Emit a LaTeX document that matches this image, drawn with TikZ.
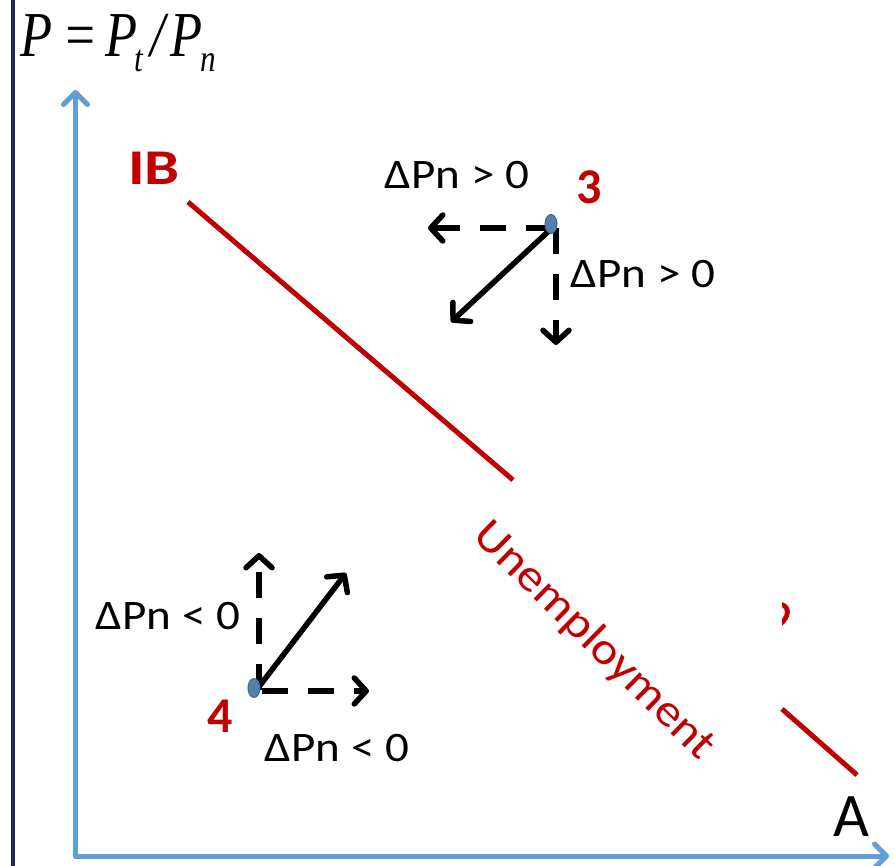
\documentclass[tikz,border=0pt]{standalone}
\usepackage{fontspec}
\setmainfont{Carlito}
\newfontfamily\ttlfont{Liberation Serif}
\usetikzlibrary{arrows.meta,shapes.geometric}
\definecolor{navy}{RGB}{38,38,90}
\definecolor{axisblue}{RGB}{98,158,212}
\definecolor{ibred}{RGB}{192,0,0}
\definecolor{dotfill}{RGB}{84,128,172}
\definecolor{dotdraw}{RGB}{62,100,145}
\tikzset{
  axisline/.style={axisblue, line width=5pt, line cap=round,
     -{Straight Barb[length=12pt,width=24pt,line cap=round,line join=round]}},
  redline/.style={ibred, line width=5pt},
  dasharrow/.style={black, line width=5.5pt, dash pattern=on 26pt off 20pt,
     -{Straight Barb[length=12pt,width=26pt,line cap=round,line join=round]}},
  solidarrow/.style={black, line width=5.5pt,
     -{Straight Barb[length=12pt,width=26pt,line cap=round,line join=round]}},
  lbl/.style={inner sep=0, font=\fontsize{42}{42}\selectfont, xscale=1.12},
  numlbl/.style={inner sep=0, text=ibred, font=\fontsize{50}{50}\selectfont\bfseries},
  dotnode/.style={ellipse, fill=dotfill, draw=dotdraw, line width=1pt,
     minimum width=12pt, minimum height=19pt, inner sep=0},
}
\begin{document}
\begin{tikzpicture}[x=1pt,y=-1pt]
\useasboundingbox (0,0) rectangle (895,866);
% left border
\draw[navy, line width=4pt] (13,-2) -- (13,868);
% axes
\coordinate (O) at (75.5,856);
\coordinate (ytop) at (75.5,90);
\coordinate (xend) at (889,856);
\draw[axisline] (O) -- (ytop);
\draw[axisline] (O) -- (xend);
% title
\node[anchor=base west, inner sep=0, xscale=0.82] (ttl) at (20,57)
  {\ttlfont\fontsize{64}{64}\selectfont\itshape P\kern12pt=\kern10pt P\kern-4pt\raisebox{-15pt}{\fontsize{38}{38}\selectfont t}\kern9pt/\kern7pt P\kern-3pt\raisebox{-15pt}{\fontsize{38}{38}\selectfont n}};
% IB line
\coordinate (ib1) at (188,202);
\coordinate (ib2) at (513,480);
\coordinate (ib3) at (782,709);
\coordinate (ib4) at (857,775);
\draw[redline] (ib1) -- (ib2);
\draw[redline] (ib3) -- (ib4);
\fill[ibred] (782,602) .. controls (793,606) and (792,617) .. (782,626) -- (782,619) .. controls (786,614) and (786,609) .. (782,607) -- cycle;
\node[inner sep=0, text=ibred, font=\fontsize{50}{50}\selectfont\bfseries, xscale=1.25] (IB) at (154,168) {IB};
\node[inner sep=0, text=ibred, rotate=-44.5, xscale=1.12, font=\fontsize{45}{45}\selectfont] (unemp) at (594,641) {Unemployment};
% point 3
\coordinate (p3) at (552,228);
\coordinate (p3l) at (428,228);
\coordinate (p3d) at (556,345);
\coordinate (p3s) at (451,322);
\draw[dasharrow] (p3) -- (p3l);
\draw[dasharrow] (556,228) -- (p3d);
\draw[solidarrow] (p3) -- (p3s);
\node[dotnode] (d3) at (551,224) {};
\node[numlbl] (n3) at (589,187) {3};
\node[lbl] (l3a) at (457,175) {ΔPn > 0};
\node[lbl] (l3b) at (643,274) {ΔPn > 0};
% point 4
\coordinate (p4) at (258,688);
\coordinate (p4u) at (259,553);
\coordinate (p4r) at (369,691);
\coordinate (p4s) at (346,573);
\draw[dasharrow] (259,690) -- (p4u);
\draw[dasharrow] (262,691) -- (p4r);
\draw[solidarrow] (p4) -- (p4s);
\node[dotnode] (d4) at (254,688) {};
\node[numlbl] (n4) at (220,716) {4};
\node[lbl] (l4a) at (168,616) {ΔPn < 0};
\node[lbl] (l4b) at (337,748) {ΔPn < 0};
% axis label
\node[inner sep=0, font=\fontsize{62}{62}\selectfont] (A) at (851,817) {A};
\end{tikzpicture}
\end{document}
